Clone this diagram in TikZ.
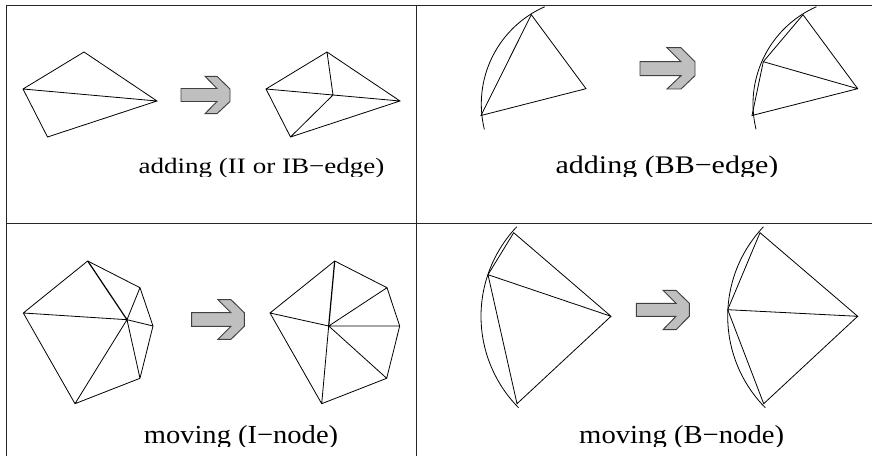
\documentclass[tikz,border=0pt]{standalone}
\usepackage{fontspec}
\setmainfont{Liberation Serif}
\tikzset{
  x=0.75pt,y=-0.75pt,
  mesh/.style={draw=black,line width=0.6pt,line join=miter},
  boundary/.style={draw=black,line width=0.6pt},
  frameline/.style={draw=black!85,line width=0.7pt},
  blockarrow/.style={draw=black!75,fill=black!25,line width=0.7pt},
  caption/.style={anchor=base,inner sep=0pt}
}
\begin{document}
\begin{tikzpicture}
\useasboundingbox (0,0) rectangle (872,456);
\fill[white] (0,0) rectangle (872,456);
% frame
\draw[frameline] (6.5,456) -- (6.5,5.5) -- (872,5.5);
\draw[frameline] (6.5,223.5) -- (872,223.5);
\draw[frameline] (416.5,5.5) -- (416.5,456);
% panel 1 left
\coordinate (a1) at (23,89); \coordinate (b1) at (84,52); \coordinate (c1) at (157,101); \coordinate (d1) at (47.5,137);
\draw[mesh] (a1) -- (b1) -- (c1) -- (d1) -- cycle (a1) -- (c1);
% panel 1 right
\coordinate (a2) at (266,89); \coordinate (b2) at (327,52); \coordinate (c2) at (400,101); \coordinate (d2) at (290.5,137); \coordinate (e2) at (333,95);
\draw[mesh] (a2) -- (b2) -- (c2) -- (d2) -- cycle (a2) -- (e2) (b2) -- (e2) (c2) -- (e2) (d2) -- (e2);
\draw[blockarrow] (181,88.5) -- (217,88.5) -- (205,76.3) -- (217,76.3) -- (230,89) -- (230,101.5) -- (217,113.7) -- (205,113.7) -- (217,101.5) -- (181,101.5) -- cycle;
% panel 2
\draw[boundary] plot[domain=113.8:193.8,samples=50,smooth] ({587.6+106.3*cos(\x)},{104-106.3*sin(\x)});
\coordinate (p3) at (531.3,14.7); \coordinate (q3) at (481,115.5); \coordinate (r3) at (586,88.7);
\draw[mesh] (p3) -- (q3) -- (r3) -- cycle;
\draw[boundary] plot[domain=113.8:193.8,samples=50,smooth] ({859.3+106.3*cos(\x)},{104-106.3*sin(\x)});
\coordinate (p4) at (803,14.7); \coordinate (q4) at (752,115.5); \coordinate (r4) at (857.7,88.7); \coordinate (m4) at (763.3,61.7);
\draw[mesh] (p4) -- (m4) -- (q4) -- (r4) -- cycle (m4) -- (r4);
\draw[blockarrow] (640,61.7) -- (681,61.7) -- (667,47.7) -- (681,47.7) -- (695,61.7) -- (695,75.7) -- (681,89) -- (667,89) -- (681,75.7) -- (640,75.7) -- cycle;
% panel 3 left
\coordinate (a5) at (23.3,313); \coordinate (b5) at (87.7,261); \coordinate (c5) at (140,287.7); \coordinate (d5) at (153,326); \coordinate (e5) at (140,378.3); \coordinate (f5) at (75,403.7); \coordinate (g5) at (127,319.7);
\draw[mesh] (a5) -- (b5) -- (c5) -- (d5) -- (e5) -- (f5) -- cycle (g5) -- (a5) (g5) -- (c5) (g5) -- (d5) (g5) -- (e5) (g5) -- (f5);
\draw[mesh,line width=0.9pt] (b5) -- (g5);
% panel 3 right
\coordinate (a6) at (270,313); \coordinate (b6) at (334.7,261); \coordinate (c6) at (387,287.7); \coordinate (d6) at (399.7,326); \coordinate (e6) at (386.7,378.3); \coordinate (f6) at (321.7,403.7); \coordinate (g6) at (328.7,326);
\draw[mesh] (a6) -- (b6) -- (c6) -- (d6) -- (e6) -- (f6) -- cycle (g6) -- (a6) (g6) -- (c6) (g6) -- (d6) (g6) -- (e6) (g6) -- (f6);
\draw[mesh,line width=0.9pt] (b6) -- (g6);
\draw[blockarrow] (191.7,312.7) -- (231,312.7) -- (218,299.7) -- (231,299.7) -- (244.3,312.7) -- (244.3,326.3) -- (231,339.3) -- (218,339.3) -- (231,326.3) -- (191.7,326.3) -- cycle;
% panel 4
\draw[boundary] plot[domain=136.5:224.7,samples=50,smooth] ({611+130*cos(\x)},{316.3-130*sin(\x)});
\coordinate (t7) at (513.7,232.7); \coordinate (m7) at (488,274.7); \coordinate (r7) at (611,316.3); \coordinate (b7) at (517,403.7);
\draw[mesh] (t7) -- (m7) -- (b7) -- (r7) -- cycle (m7) -- (r7);
\draw[boundary] plot[domain=136.5:224.7,samples=50,smooth] ({857.7+130*cos(\x)},{316.3-130*sin(\x)});
\coordinate (t8) at (760,232.7); \coordinate (m8) at (727.7,309.7); \coordinate (r8) at (857.7,316.3); \coordinate (b8) at (763.7,403.7);
\draw[mesh] (t8) -- (m8) -- (b8) -- (r8) -- cycle (m8) -- (r8);
\draw[blockarrow] (636.3,303.3) -- (676,303.3) -- (663,290.3) -- (676,290.3) -- (689.3,303.3) -- (689.3,316.3) -- (676,329.7) -- (663,329.7) -- (676,316.3) -- (636.3,316.3) -- cycle;
% captions
\begin{scope}
\clip (100,150) rectangle (872,176.5);
\node[caption,font=\fontsize{16.5pt}{20pt}\selectfont] (t1) at (261.5,173.5) {\scalebox{1.23}[1]{adding (II or IB−edge)}};
\node[caption,font=\fontsize{19pt}{23pt}\selectfont] (t2) at (667,174) {\scalebox{1.184}[1]{adding (BB−edge)}};
\end{scope}
\begin{scope}
\clip (0,420) rectangle (872,446.5);
\node[caption,font=\fontsize{19.5pt}{23pt}\selectfont] (t3) at (241,443) {\scalebox{1.097}[1]{moving (I−node)}};
\node[caption,font=\fontsize{19.5pt}{23pt}\selectfont] (t4) at (681.7,443) {\scalebox{1.103}[1]{moving (B−node)}};
\end{scope}
\end{tikzpicture}
\end{document}
